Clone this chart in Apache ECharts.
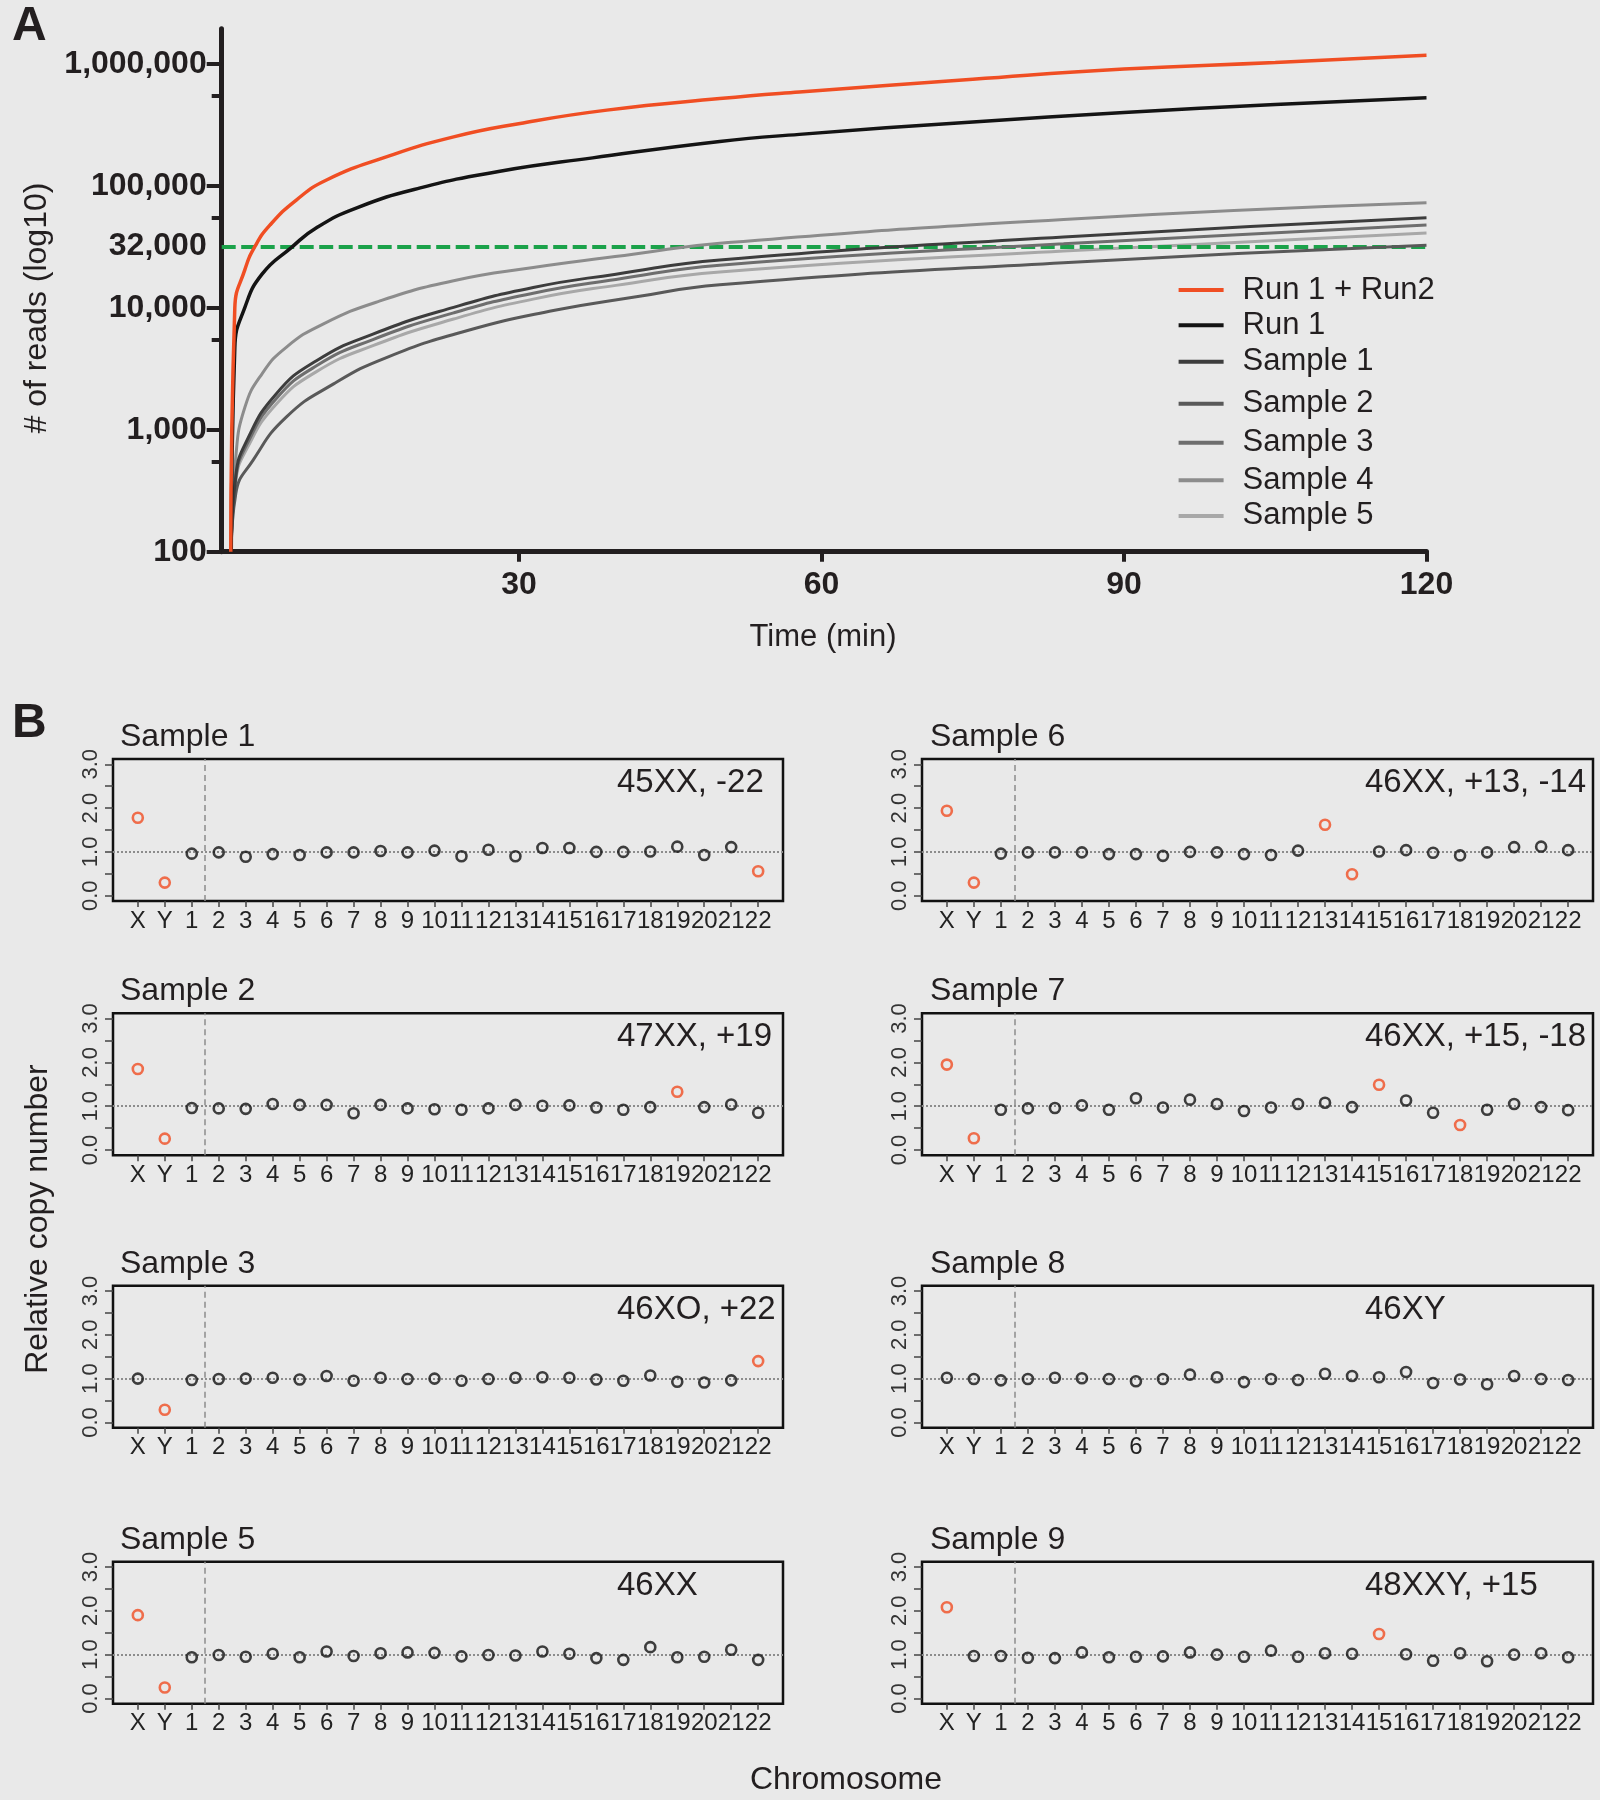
<!DOCTYPE html>
<html><head><meta charset="utf-8">
<script src="https://cdn.jsdelivr.net/npm/echarts@6/dist/echarts.min.js"></script>
<style>html,body{margin:0;padding:0;background:#e9e9e9}#c{width:1600px;height:1800px}</style>
</head><body><div id="c"></div>
<script>
// ---------------- Panel A data: reads vs time ----------------
const RUN12_T     = [1.4, 1.8, 2.8, 3.8, 5.3, 7.9, 10.9, 16.9, 23.5, 30.1, 38.7, 49.9, 57.8, 75, 90, 105, 120];
const RUN12_READS = [100, 10000, 20600, 31900, 47900, 76700, 112000, 174000, 253000, 326000, 419000, 521000, 590000, 750000, 910000, 1030000, 1180000];
const RUN1_T      = [1.45, 1.8, 2.8, 4.5, 7.4, 9.9, 13.9, 20.2, 28.1, 37.3, 49.9, 57.8, 75, 90, 105, 120];
const RUN1_READS  = [100, 4700, 10100, 18900, 31200, 45400, 66200, 96400, 132000, 170000, 232000, 265000, 335000, 401000, 465000, 528000];
const S1_T        = [1.45, 1.9, 3.0, 5.9, 9.9, 15.5, 23.5, 31.4, 39.6, 49.9, 84, 120];
const S1_READS    = [100, 420, 818, 1970, 3690, 6100, 10100, 14700, 18900, 24700, 38100, 54800];
const S2_T        = [1.45, 1.9, 3.6, 6.9, 11.6, 16.9, 24.8, 33.4, 41.3, 49.9, 84, 120];
const S2_READS    = [100, 300, 562, 1270, 2380, 3930, 6500, 9500, 12200, 15500, 23500, 32600];
const S3_T        = [1.45, 1.9, 3.0, 5.9, 9.9, 15.5, 23.5, 31.4, 39.6, 49.9, 84, 120];
const S3_READS    = [100, 400, 760, 1800, 3350, 5500, 9100, 13200, 17100, 22400, 33600, 47900];
const S4_T        = [1.45, 1.9, 2.8, 4.5, 6.9, 10.6, 16.2, 23.5, 31.4, 41.3, 49.9, 84, 120];
const S4_READS    = [100, 600, 1530, 2880, 4750, 7400, 11400, 16700, 21400, 27500, 33900, 53200, 72800];
const S5_T        = [1.45, 1.9, 3.0, 5.9, 9.9, 15.5, 23.5, 31.4, 39.6, 49.9, 84, 120];
const S5_READS    = [100, 380, 700, 1620, 3000, 4900, 8100, 11800, 15300, 19700, 29300, 41100];
const THRESHOLD = 32000;
const A_SERIES_NAMES = ['Run 1 + Run2', 'Run 1', 'Sample 1', 'Sample 2', 'Sample 3', 'Sample 4', 'Sample 5'];
const A_X_TICKS = [30, 60, 90, 120];
const A_Y_LABELS = [100, 1000, 10000, 32000, 100000, 1000000];
const A_Y_MAJOR = [100, 1000, 10000, 100000, 1000000];
const A_Y_MINOR = [550, 5500, 55000, 550000];

// ---------------- Panel B data: relative copy number ----------------
const CHROMOSOMES = ['X','Y','1','2','3','4','5','6','7','8','9','10','11','12','13','14','15','16','17','18','19','20','21','22'];
const SAMPLE1 = [1.78,0.30,0.96,0.99,0.89,0.95,0.93,0.99,0.99,1.02,0.99,1.03,0.90,1.05,0.90,1.09,1.09,1.00,1.00,1.01,1.12,0.93,1.11,0.56];
const SAMPLE2 = [1.85,0.26,0.96,0.95,0.94,1.05,1.03,1.03,0.84,1.03,0.95,0.93,0.92,0.95,1.03,1.01,1.02,0.97,0.92,0.98,1.33,0.98,1.04,0.85];
const SAMPLE3 = [1.00,0.29,0.97,0.99,1.00,1.02,0.98,1.06,0.95,1.02,0.99,1.00,0.95,0.99,1.02,1.03,1.02,0.98,0.95,1.07,0.93,0.91,0.96,1.40];
const SAMPLE5 = [1.90,0.25,0.94,0.99,0.95,1.02,0.94,1.07,0.97,1.03,1.05,1.04,0.96,0.99,0.98,1.07,1.02,0.92,0.88,1.17,0.94,0.95,1.11,0.88];
const SAMPLE6 = [1.94,0.30,0.96,0.99,0.99,0.99,0.95,0.95,0.91,1.00,0.99,0.95,0.93,1.03,1.62,0.49,1.01,1.04,0.98,0.92,0.99,1.11,1.12,1.04];
const SAMPLE7 = [1.95,0.27,0.92,0.95,0.96,1.02,0.92,1.18,0.97,1.15,1.05,0.89,0.97,1.05,1.08,0.98,1.49,1.13,0.85,0.57,0.92,1.05,0.98,0.91];
const SAMPLE8 = [1.02,0.99,0.96,0.99,1.02,1.01,0.99,0.94,0.99,1.09,1.03,0.92,0.99,0.97,1.11,1.06,1.03,1.15,0.90,0.98,0.87,1.06,0.99,0.97];
const SAMPLE9 = [2.08,0.97,0.97,0.93,0.92,1.05,0.94,0.95,0.96,1.05,1.00,0.95,1.09,0.95,1.03,1.02,1.47,1.01,0.86,1.03,0.85,1.00,1.03,0.94];
const B_NAMES      = ['Sample 1','Sample 2','Sample 3','Sample 5','Sample 6','Sample 7','Sample 8','Sample 9'];
const B_KARYOTYPES = ['45XX, -22','47XX, +19','46XO, +22','46XX','46XX, +13, -14','46XX, +15, -18','46XY','48XXY, +15'];
const B_ABNORMAL   = [['X','Y','22'],['X','Y','19'],['Y','22'],['X','Y'],['X','Y','13','14'],['X','Y','15','18'],[],['X','15']];
const B_VALUES     = [SAMPLE1, SAMPLE2, SAMPLE3, SAMPLE5, SAMPLE6, SAMPLE7, SAMPLE8, SAMPLE9];
const B_Y_TICKS  = [0, 0.5, 1, 1.5, 2, 2.5, 3];
const B_Y_LABELS = [0, 1, 2, 3];
const B_REFERENCE = 1.0;
const B_DIVIDER = 2.5;
</script>
<script>
const FONT = "'Liberation Sans', Arial, Helvetica, sans-serif";
const INK = '#231f20';
const RED = '#f04e23';
const A_COLORS = ['#f04e23', '#141414', '#3d3d3d', '#595959', '#6e6e6e', '#8c8c8c', '#a8a8a8'];
const A_T = [RUN12_T, RUN1_T, S1_T, S2_T, S3_T, S4_T, S5_T];
const A_R = [RUN12_READS, RUN1_READS, S1_READS, S2_READS, S3_READS, S4_READS, S5_READS];
const L10 = Math.log10;
const A_YMAX = 1950000;

const option = {
  backgroundColor: '#e9e9e9',
  animation: false,
  grid: [{ left: 221.7, top: 28.7, width: 1204.8, height: 523 }],
  xAxis: [{
    type: 'value', gridIndex: 0, min: 0.5, max: 120,
    axisLine: { onZero: false, lineStyle: { color: INK, width: 5 } },
    axisTick: { customValues: A_X_TICKS, length: 10, lineStyle: { color: INK, width: 4 } },
    axisLabel: { customValues: A_X_TICKS, fontSize: 32, fontWeight: 'bold', color: INK, fontFamily: FONT, margin: 17 },
    splitLine: { show: false }
  }],
  yAxis: [
    { type: 'log', logBase: 10, gridIndex: 0, position: 'left', min: 100, max: A_YMAX,
      axisLine: { show: true, onZero: false, lineStyle: { color: INK, width: 5 } },
      axisTick: { show: false }, axisLabel: { show: false }, splitLine: { show: false } },
    { type: 'value', gridIndex: 0, position: 'left', min: 2, max: L10(A_YMAX),
      axisLine: { show: false, onZero: false },
      axisTick: { customValues: A_Y_MAJOR.map(L10), length: 15, lineStyle: { color: INK, width: 4 } },
      axisLabel: { customValues: A_Y_LABELS.map(L10), fontSize: 32, fontWeight: 'bold', color: INK, fontFamily: FONT, margin: 15,
        formatter: v => Math.round(Math.pow(10, v)).toLocaleString('en-US') },
      splitLine: { show: false } },
    { type: 'value', gridIndex: 0, position: 'left', min: 2, max: L10(A_YMAX),
      axisLine: { show: false, onZero: false },
      axisTick: { customValues: A_Y_MINOR.map(L10), length: 10, lineStyle: { color: INK, width: 4 } },
      axisLabel: { show: false }, splitLine: { show: false } }
  ],
  legend: [],
  series: [],
  graphic: []
};

// Panel A series (draw grays first, then black, orange on top)
const drawOrder = [6, 5, 4, 3, 2, 1, 0];
drawOrder.forEach(k => {
  const s = {
    name: A_SERIES_NAMES[k], type: 'line', xAxisIndex: 0, yAxisIndex: 0,
    data: A_T[k].map((t, i) => [t, A_R[k][i]]),
    showSymbol: false, symbol: 'none', smooth: 0.5,
    lineStyle: { color: A_COLORS[k], width: k < 2 ? 3.5 : 3 },
    itemStyle: { color: A_COLORS[k] }, z: 10 - k
  };
  if (k === 0) {
    s.markLine = { silent: true, symbol: ['none', 'none'], label: { show: false },
      lineStyle: { color: '#1ba24a', width: 4, type: [14, 5.5] },
      data: [{ yAxis: THRESHOLD }] };
  }
  option.series.push(s);
});

// Legend (one component per row)
const LEG_Y = [290, 325.3, 361.7, 403.7, 442.8, 480.3, 515.9];
A_SERIES_NAMES.forEach((n, k) => {
  option.legend.push({
    data: [n], left: 1178.6, top: LEG_Y[k] - 16, padding: 0, selectedMode: false,
    icon: 'rect', itemWidth: 45, itemHeight: 4,
    textStyle: { fontSize: 31, fontFamily: FONT, color: INK, lineHeight: 32, padding: [0, 0, 0, 14] }
  });
});

// Panel B
const COL_LEFT = [113, 922], COL_W = [670, 671];
const ROW_TOP = [759, 1013.3, 1285.7, 1561.7], ROW_H = 142;
const TEXT_X = [617, 1365], TITLE_X = [120, 930];
const IDX = CHROMOSOMES.map((c, i) => i);
const PAD_X = 0.04 * (CHROMOSOMES.length - 1);

B_VALUES.forEach((vals, k) => {
  const col = k < 4 ? 0 : 1, row = k % 4;
  const g = option.grid.length;
  option.grid.push({ left: COL_LEFT[col], top: ROW_TOP[row], width: COL_W[col], height: ROW_H,
    show: true, borderColor: '#111', borderWidth: 2.5, backgroundColor: 'transparent' });
  const xi = option.xAxis.length;
  option.xAxis.push({
    type: 'value', gridIndex: g, min: -PAD_X, max: CHROMOSOMES.length - 1 + PAD_X,
    axisLine: { show: false, onZero: false },
    axisTick: { customValues: IDX, length: 6, lineStyle: { color: '#444', width: 1.5 } },
    axisLabel: { customValues: IDX, formatter: v => CHROMOSOMES[Math.round(v)], fontSize: 24, color: '#222', fontFamily: FONT, margin: 8,
      showMinLabel: true, showMaxLabel: true, hideOverlap: false },
    splitLine: { show: false }
  });
  const yi = option.yAxis.length;
  option.yAxis.push({
    type: 'value', gridIndex: g, position: 'left', min: -0.12, max: 3.12,
    axisLine: { show: false, onZero: false },
    axisTick: { customValues: B_Y_TICKS, length: 8, lineStyle: { color: '#444', width: 1.5 } },
    axisLabel: { customValues: B_Y_LABELS, formatter: v => v.toFixed(1), rotate: 90, fontSize: 22, color: '#333', fontFamily: FONT, margin: 11,
      showMinLabel: true, showMaxLabel: true },
    splitLine: { show: false }
  });
  const ab = B_ABNORMAL[k];
  option.series.push({
    name: B_NAMES[k], type: 'scatter', xAxisIndex: xi, yAxisIndex: yi,
    symbol: 'circle', symbolSize: 10,
    data: vals.map((v, i) => ({ value: [i, v],
      itemStyle: { color: 'rgba(0,0,0,0)', borderColor: ab.includes(CHROMOSOMES[i]) ? RED : '#111', borderWidth: 2.6 } })),
    markLine: { silent: true, symbol: ['none', 'none'], label: { show: false }, z: 1,
      data: [
        { yAxis: B_REFERENCE, lineStyle: { color: '#8c8c8c', width: 2, type: [2, 2] } },
        { xAxis: B_DIVIDER, lineStyle: { color: '#8c8c8c', width: 1.5, type: [6, 4] } }
      ] },
    z: 5
  });
  option.graphic.push({ type: 'text', x: TITLE_X[col], y: ROW_TOP[row] - 22,
    style: { text: B_NAMES[k], fontSize: 32, fontFamily: FONT, fill: INK, align: 'left', verticalAlign: 'middle' } });
  option.graphic.push({ type: 'text', x: TEXT_X[col], y: ROW_TOP[row] + 24,
    style: { text: B_KARYOTYPES[k], fontSize: 33, fontFamily: FONT, fill: INK, align: 'left', verticalAlign: 'middle' } });
});

// Panel labels and axis titles
option.graphic.push(
  { type: 'text', x: 12, y: 27, style: { text: 'A', fontSize: 48, fontWeight: 'bold', fontFamily: FONT, fill: INK, align: 'left', verticalAlign: 'middle' } },
  { type: 'text', x: 12, y: 724, style: { text: 'B', fontSize: 48, fontWeight: 'bold', fontFamily: FONT, fill: INK, align: 'left', verticalAlign: 'middle' } },
  { type: 'text', x: 37, y: 308, rotation: Math.PI / 2, style: { text: '# of reads (log10)', fontSize: 32, fontFamily: FONT, fill: INK, align: 'center', verticalAlign: 'middle' } },
  { type: 'text', x: 823, y: 637, style: { text: 'Time (min)', fontSize: 31, fontFamily: FONT, fill: INK, align: 'center', verticalAlign: 'middle' } },
  { type: 'text', x: 38, y: 1219, rotation: Math.PI / 2, style: { text: 'Relative copy number', fontSize: 32, fontFamily: FONT, fill: INK, align: 'center', verticalAlign: 'middle' } },
  { type: 'text', x: 846, y: 1780, style: { text: 'Chromosome', fontSize: 32, fontFamily: FONT, fill: INK, align: 'center', verticalAlign: 'middle' } }
);

const chart = echarts.init(document.getElementById('c'), null, { renderer: 'canvas' });
chart.setOption(option);
</script>
</body></html>
